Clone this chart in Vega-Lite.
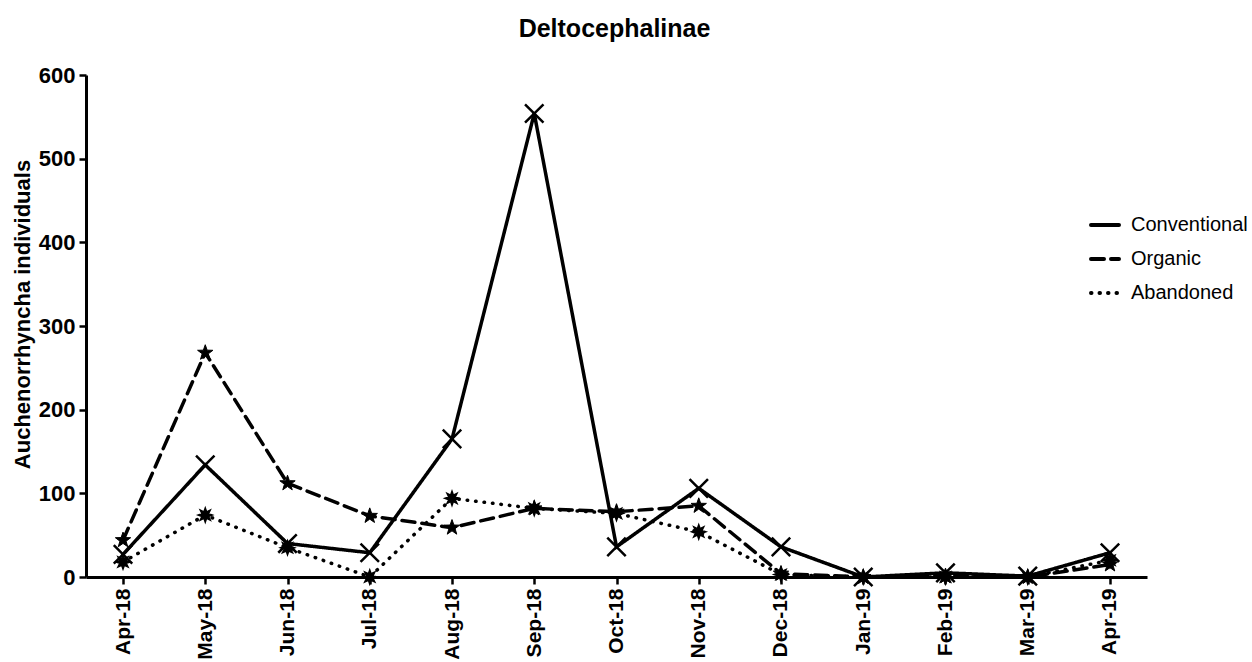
{
  "$schema": "https://vega.github.io/schema/vega-lite/v6.json",
  "autosize": {"type": "none"},
  "padding": {"left": 86, "top": 75, "right": 105, "bottom": 85},
  "width": 1061,
  "height": 502,
  "background": "white",
  "title": {"text": "Deltocephalinae", "fontSize": 25, "font": "Liberation Sans", "fontWeight": "bold", "color": "black", "anchor": "middle", "dx": -2, "offset": 22},
  "config": {
    "view": {"stroke": null},
    "font": "Liberation Sans"
  },
  "data": {"values": [
    {"month": "Apr-18", "series": "Conventional", "value": 27},
    {"month": "May-18", "series": "Conventional", "value": 134},
    {"month": "Jun-18", "series": "Conventional", "value": 40},
    {"month": "Jul-18", "series": "Conventional", "value": 29},
    {"month": "Aug-18", "series": "Conventional", "value": 165},
    {"month": "Sep-18", "series": "Conventional", "value": 554},
    {"month": "Oct-18", "series": "Conventional", "value": 36},
    {"month": "Nov-18", "series": "Conventional", "value": 106},
    {"month": "Dec-18", "series": "Conventional", "value": 36},
    {"month": "Jan-19", "series": "Conventional", "value": 0},
    {"month": "Feb-19", "series": "Conventional", "value": 5},
    {"month": "Mar-19", "series": "Conventional", "value": 1},
    {"month": "Apr-19", "series": "Conventional", "value": 29},
    {"month": "Apr-18", "series": "Organic", "value": 44},
    {"month": "May-18", "series": "Organic", "value": 268},
    {"month": "Jun-18", "series": "Organic", "value": 112},
    {"month": "Jul-18", "series": "Organic", "value": 73},
    {"month": "Aug-18", "series": "Organic", "value": 59},
    {"month": "Sep-18", "series": "Organic", "value": 82},
    {"month": "Oct-18", "series": "Organic", "value": 78},
    {"month": "Nov-18", "series": "Organic", "value": 85},
    {"month": "Dec-18", "series": "Organic", "value": 4},
    {"month": "Jan-19", "series": "Organic", "value": 0},
    {"month": "Feb-19", "series": "Organic", "value": 1},
    {"month": "Mar-19", "series": "Organic", "value": 0},
    {"month": "Apr-19", "series": "Organic", "value": 15},
    {"month": "Apr-18", "series": "Abandoned", "value": 18},
    {"month": "May-18", "series": "Abandoned", "value": 74},
    {"month": "Jun-18", "series": "Abandoned", "value": 35},
    {"month": "Jul-18", "series": "Abandoned", "value": 0},
    {"month": "Aug-18", "series": "Abandoned", "value": 94},
    {"month": "Sep-18", "series": "Abandoned", "value": 82},
    {"month": "Oct-18", "series": "Abandoned", "value": 76},
    {"month": "Nov-18", "series": "Abandoned", "value": 54},
    {"month": "Dec-18", "series": "Abandoned", "value": 3},
    {"month": "Jan-19", "series": "Abandoned", "value": 0},
    {"month": "Feb-19", "series": "Abandoned", "value": 0},
    {"month": "Mar-19", "series": "Abandoned", "value": 0},
    {"month": "Apr-19", "series": "Abandoned", "value": 20}
  ]},
  "encoding": {
    "x": {
      "field": "month", "type": "ordinal",
      "sort": ["Apr-18","May-18","Jun-18","Jul-18","Aug-18","Sep-18","Oct-18","Nov-18","Dec-18","Jan-19","Feb-19","Mar-19","Apr-19"],
      "scale": {"type": "point", "padding": 0.45},
      "axis": {
        "title": null, "labelAngle": -90, "labelFontSize": 21, "labelFontWeight": "bold", "labelColor": "black",
        "domainColor": "black", "domainWidth": 3, "tickColor": "black", "tickWidth": 2.5, "tickSize": 7, "labelPadding": 4, "grid": false
      }
    },
    "y": {
      "field": "value", "type": "quantitative",
      "scale": {"domain": [0, 600], "nice": false, "zero": true},
      "axis": {
        "title": "Auchenorrhyncha individuals", "titleFontSize": 22, "titleFontWeight": "bold", "titleColor": "black",
        "titleX": -64, "titleY": 239, "titleAngle": -90, "titleAlign": "center", "titleBaseline": "middle",
        "values": [0, 100, 200, 300, 400, 500, 600],
        "labelFontSize": 22, "labelFontWeight": "bold", "labelColor": "black",
        "domainColor": "black", "domainWidth": 3, "tickColor": "black", "tickWidth": 2.5, "tickSize": 7, "labelPadding": 4, "grid": false
      }
    }
  },
  "layer": [
    {
      "mark": {"type": "line", "color": "black", "strokeWidth": 3.5, "strokeCap": "round"},
      "encoding": {
        "detail": {"field": "series"},
        "strokeDash": {
          "field": "series", "type": "nominal",
          "scale": {"domain": ["Conventional", "Organic", "Abandoned"], "range": [[1, 0], [13, 7], [0.5, 8]]},
          "legend": {
            "title": null, "orient": "none", "legendX": 1003, "legendY": 134,
            "symbolType": "stroke", "symbolSize": 784, "symbolStrokeWidth": 4, "symbolStrokeColor": "black",
            "labelFontSize": 20, "labelColor": "black", "labelOffset": 10, "rowPadding": 8,
            "encode": {"symbols": {"update": {"strokeCap": {"value": "round"}}}}
          }
        }
      }
    },
    {
      "transform": [{"filter": "datum.series === 'Conventional'"}],
      "mark": {"type": "point", "shape": "M-1,-1L1,1M-1,1L1,-1", "filled": false, "stroke": "black", "strokeWidth": 2.5, "size": 340, "opacity": 1}
    },
    {
      "transform": [{"filter": "datum.series === 'Organic'"}],
      "mark": {"type": "point", "shape": "M0,-1L0.235,-0.324L0.951,-0.309L0.38,0.124L0.588,0.809L0,0.4L-0.588,0.809L-0.38,0.124L-0.951,-0.309L-0.235,-0.324Z", "filled": true, "fill": "black", "stroke": "black", "strokeWidth": 1, "size": 260, "opacity": 1}
    },
    {
      "transform": [{"filter": "datum.series === 'Abandoned'"}],
      "mark": {"type": "point", "shape": "M1,0L0.462,0.191L0.707,0.707L0.191,0.462L0,1L-0.191,0.462L-0.707,0.707L-0.462,0.191L-1,0L-0.462,-0.191L-0.707,-0.707L-0.191,-0.462L0,-1L0.191,-0.462L0.707,-0.707L0.462,-0.191Z", "filled": true, "fill": "black", "stroke": "black", "strokeWidth": 1.5, "size": 200, "opacity": 1}
    }
  ]
}
